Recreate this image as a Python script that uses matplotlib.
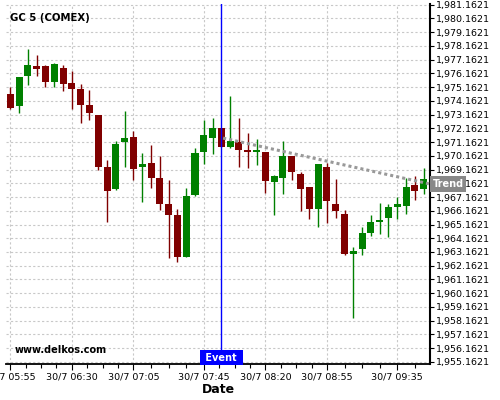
import matplotlib
matplotlib.use('Agg')
import matplotlib.pyplot as plt
import matplotlib.transforms as mtransforms
from matplotlib.ticker import FixedLocator, FuncFormatter

# ---- data (5-minute candles, 30/7 05:55 .. 09:50) ----
opens = [1974.64, 1973.79, 1975.98, 1976.68, 1976.68, 1975.52, 1976.54, 1975.44, 1975.01, 1973.84,
         1973.11, 1969.35, 1967.75, 1971.20, 1971.54, 1969.38, 1969.65, 1968.55, 1966.66, 1965.86,
         1962.83, 1967.32, 1970.43, 1971.47, 1972.18, 1970.82, 1971.16, 1970.50, 1970.45, 1970.43,
         1968.27, 1968.56, 1970.14, 1968.86, 1967.90, 1966.28, 1969.37, 1966.69, 1965.96, 1963.02,
         1963.38, 1964.51, 1965.34, 1965.63, 1966.42, 1966.50, 1968.07, 1967.73]
highs = [1975.17, 1975.88, 1977.97, 1977.48, 1976.75, 1976.95, 1976.75, 1976.32, 1975.42, 1974.98,
         1973.11, 1969.83, 1971.27, 1973.43, 1971.98, 1970.35, 1970.96, 1970.16, 1968.41, 1966.30,
         1967.80, 1970.72, 1972.80, 1972.88, 1972.20, 1974.51, 1972.88, 1971.84, 1971.42, 1970.45,
         1968.75, 1971.23, 1970.14, 1968.99, 1967.92, 1969.59, 1969.61, 1968.48, 1966.23, 1963.55,
         1964.97, 1965.87, 1966.76, 1966.69, 1967.20, 1968.55, 1968.72, 1969.27]
lows = [1973.57, 1973.31, 1975.35, 1976.00, 1975.18, 1975.18, 1974.89, 1973.60, 1972.58, 1972.80,
        1969.16, 1965.36, 1967.70, 1969.38, 1968.38, 1966.78, 1967.80, 1966.25, 1962.75, 1962.46,
        1962.78, 1967.27, 1969.55, 1970.26, 1970.80, 1970.75, 1969.34, 1969.24, 1969.48, 1967.44,
        1965.89, 1967.35, 1968.41, 1966.18, 1965.55, 1964.97, 1965.29, 1965.65, 1962.94, 1958.33,
        1962.97, 1964.32, 1964.49, 1964.25, 1965.55, 1965.94, 1966.93, 1967.39]
closes = [1973.65, 1975.88, 1976.75, 1976.49, 1975.52, 1976.83, 1975.39, 1975.01, 1973.87, 1973.28,
          1969.33, 1967.62, 1971.03, 1971.47, 1969.21, 1969.57, 1968.58, 1966.69, 1965.86, 1962.83,
          1967.24, 1970.38, 1971.64, 1972.18, 1970.82, 1971.23, 1970.60, 1970.43, 1970.55, 1968.34,
          1968.68, 1970.14, 1968.99, 1967.71, 1966.26, 1969.59, 1966.90, 1966.18, 1963.04, 1963.26,
          1964.51, 1965.31, 1965.48, 1966.47, 1966.69, 1967.92, 1967.58, 1968.50]

tick_idx = [0, 7, 14, 22, 29, 36, 44]
tick_labels = ['30/7 05:55', '30/7 06:30', '30/7 07:05', '30/7 07:45',
               '30/7 08:20', '30/7 08:55', '30/7 09:35']
event_idx = 24
trend_idx = [24.2, 47.72]
trend_vals = [1971.45, 1968.11]
ytick_start = 1955.1621
ytick_count = 27

title = 'GC 5 (COMEX)'
watermark = 'www.delkos.com'

UP = '#008000'
DOWN = '#800000'

fig = plt.figure(figsize=(5, 4), dpi=100)
ax = fig.add_axes([0.012, 0.09, 0.848, 0.90])

n = len(opens)
xs = list(range(n))
colors = [UP if c >= o else DOWN for o, c in zip(opens, closes)]

ax.vlines(xs, lows, highs, colors=colors, linewidth=1.0, zorder=3)
bottoms = [min(o, c) for o, c in zip(opens, closes)]
heights = [max(abs(c - o), 0.12) for o, c in zip(opens, closes)]
ax.bar(xs, heights, bottom=bottoms, width=0.8, color=colors, linewidth=0, zorder=4)

# trend line
ax.plot(trend_idx, trend_vals, color='#999999', linewidth=2.2,
        linestyle=(0, (1, 1)), zorder=5, solid_capstyle='butt')

# event line
ax.axvline(event_idx, color='#0000ff', linewidth=1.0, zorder=6)

ax.set_xlim(-0.49, 47.72)
ax.set_ylim(1955.01, 1981.21)

# axes styling
for s in ['left', 'top']:
    ax.spines[s].set_visible(False)
ax.spines['right'].set_linewidth(1.5)
ax.spines['bottom'].set_linewidth(1.3)

ax.yaxis.tick_right()
yt = [ytick_start + k for k in range(ytick_count)]
ax.yaxis.set_major_locator(FixedLocator(yt))
ax.yaxis.set_major_formatter(FuncFormatter(lambda v, p: '{:,.4f}'.format(v)))
ax.tick_params(axis='y', which='major', length=3, width=0.8, labelsize=6.8, pad=1.5)

ax.xaxis.set_major_locator(FixedLocator(tick_idx))
ax.set_xticklabels(tick_labels)
minor = []
for a, b in zip(tick_idx[:-1], tick_idx[1:]):
    step = (b - a) / 4
    minor += [a + step * k for k in (1, 2, 3)]
minor.append(tick_idx[-1] + (tick_idx[-1] - tick_idx[-2]) / 4)
ax.xaxis.set_minor_locator(FixedLocator(minor))
ax.tick_params(axis='x', which='major', length=4, width=0.8, labelsize=6.8, pad=2)
ax.tick_params(axis='x', which='minor', length=3, width=0.8)

ax.grid(True, which='major', color='#c8c8c8', linestyle=(0, (2, 2)), linewidth=0.8)
ax.set_axisbelow(True)

ax.set_xlabel('Date', fontsize=9, fontweight='bold', labelpad=1)

ax.text(0.01, 0.975, title, transform=ax.transAxes, fontsize=7.3,
        fontweight='bold', ha='left', va='top')
ax.text(0.021, 0.025, watermark, transform=ax.transAxes, fontsize=7,
        fontweight='bold', ha='left', va='bottom')

bt = mtransforms.blended_transform_factory(ax.transData, ax.transAxes)
ax.text(event_idx, 0.004, ' Event ', transform=bt, ha='center', va='bottom',
        color='white', fontsize=7, fontweight='bold', zorder=7,
        bbox=dict(facecolor='#0000ff', edgecolor='none', pad=1.6))

bt2 = mtransforms.blended_transform_factory(ax.transAxes, ax.transData)
ax.text(1.006, trend_vals[-1], 'Trend', transform=bt2, ha='left', va='center',
        color='white', fontsize=7, fontweight='bold', zorder=7,
        bbox=dict(facecolor='#888888', edgecolor='none', pad=2.0))

fig.savefig('out.png', dpi=100)
